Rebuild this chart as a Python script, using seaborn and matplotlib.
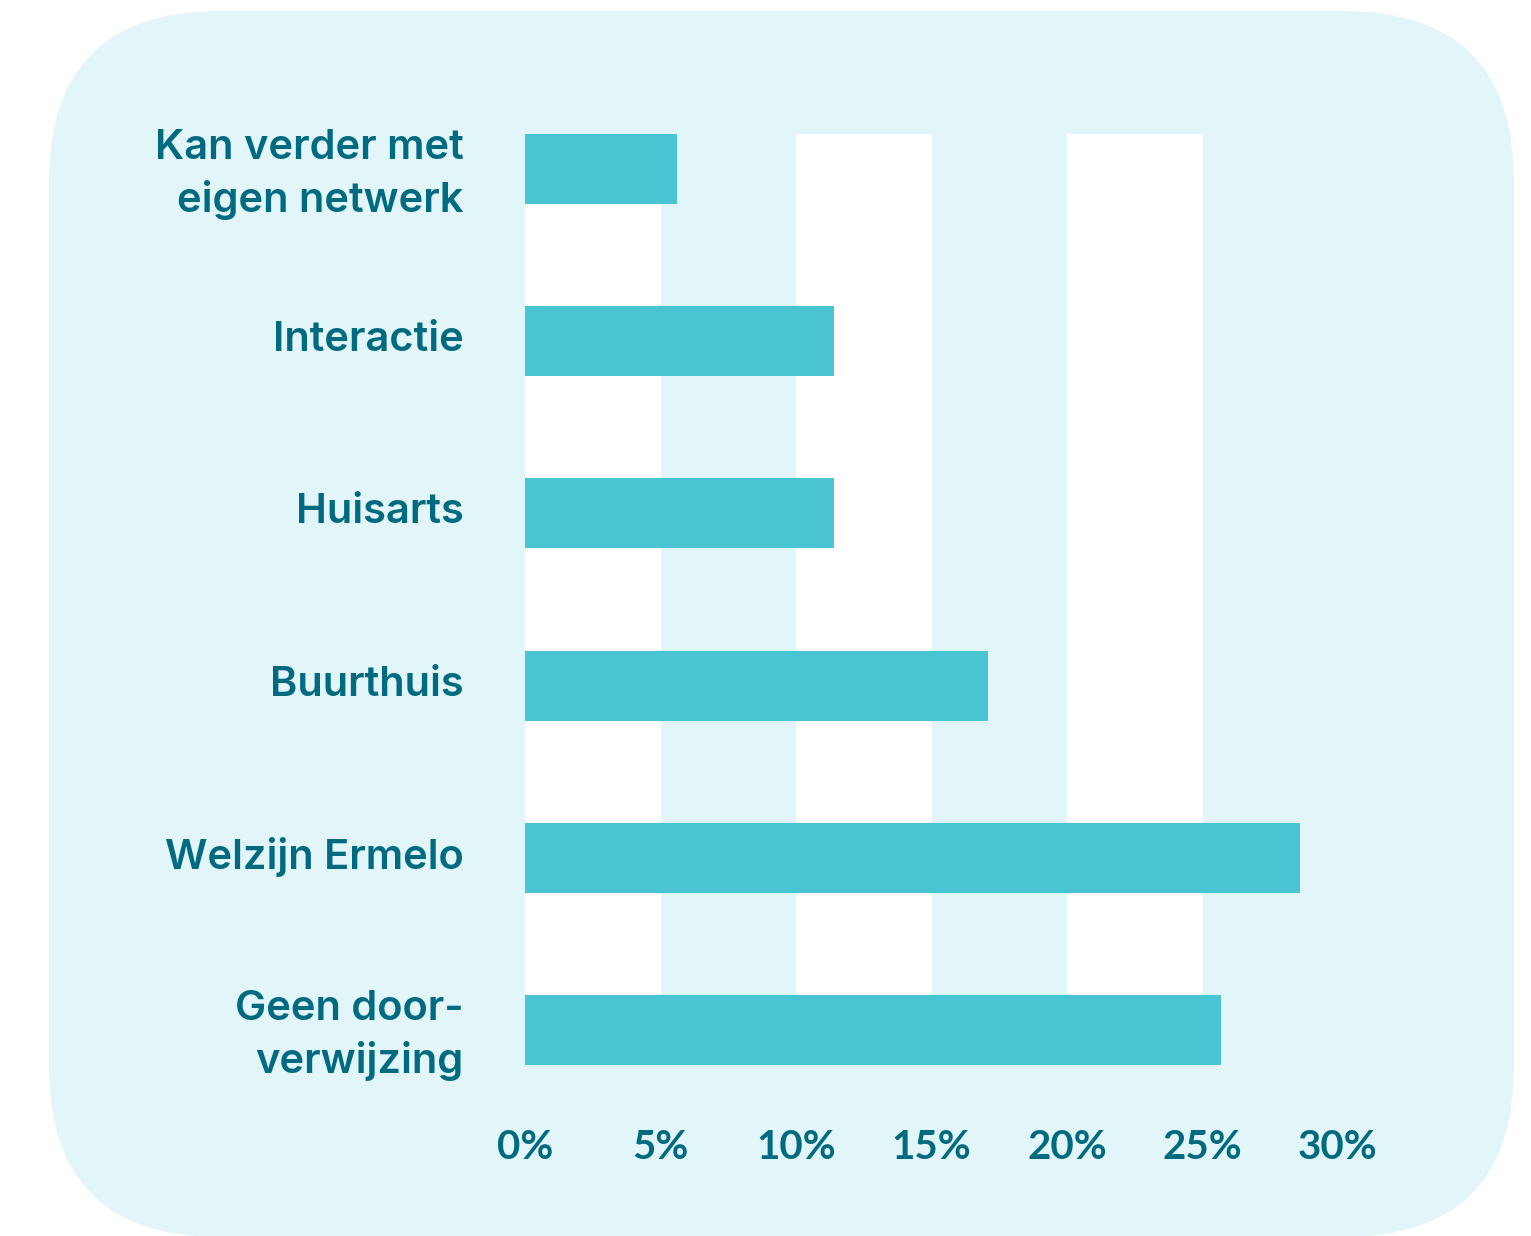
import matplotlib
matplotlib.use("Agg")
import matplotlib.pyplot as plt
import matplotlib.transforms as mtransforms
import seaborn as sns
import pandas as pd
from matplotlib.patches import FancyBboxPatch
from matplotlib.ticker import FuncFormatter

# Data
categories = ["Kan verder met\neigen netwerk", "Interactie", "Huisarts",
              "Buurthuis", "Welzijn Ermelo", "Geen door-\nverwijzing"]
percentages = [5.6, 11.4, 11.4, 17.1, 28.6, 25.7]
tick_values = [0, 5, 10, 15, 20, 25, 30]

panel_color = "#E2F5F9"
bar_color = "#4AC4D3"
text_color = "#006B80"

W, H = 1531, 1236
sns.set_theme(style="white")
plt.rcParams["font.family"] = ["Lato", "DejaVu Sans"]

fig = plt.figure(figsize=(W / 100, H / 100), dpi=100)
fig.patch.set_facecolor("white")

# Rounded light panel behind the chart
bg = fig.add_axes([0, 0, 1, 1], zorder=0)
bg.set_xlim(0, W)
bg.set_ylim(H, 0)
bg.axis("off")
bg.add_patch(FancyBboxPatch((49, 11), 1465, 1226,
                            boxstyle="round,pad=0,rounding_size=171",
                            facecolor=panel_color, edgecolor="none"))

# Bar axes
left, right, top, bottom = 525, 1338, 134, 1065
ax = fig.add_axes([left / W, 1 - bottom / H, (right - left) / W, (bottom - top) / H], zorder=1)
ax.set_facecolor(panel_color)

df = pd.DataFrame({"categorie": categories, "pct": percentages})
bar_w = 70 / 172
sns.barplot(data=df, y="categorie", x="pct", orient="h", color=bar_color,
            width=bar_w, saturation=1, linewidth=0, edgecolor="none", ax=ax, zorder=3)

# White vertical bands
for start in tick_values[0:-1:2]:
    ax.axvspan(start, start + 5, color="white", zorder=1, lw=0)

ax.set_xlim(0, 30)
ax.set_ylim(len(categories) - 1 + bar_w / 2, -bar_w / 2)
ax.set_xticks(tick_values)
ax.xaxis.set_major_formatter(FuncFormatter(lambda v, p: f"{v:.0f}%"))
ax.set_xlabel("")
ax.set_ylabel("")
for s in ax.spines.values():
    s.set_visible(False)
ax.tick_params(axis="x", length=0, pad=46, labelsize=29, labelcolor=text_color)
ax.tick_params(axis="y", length=0, pad=44, labelsize=30, labelcolor=text_color)
for lab in ax.get_xticklabels():
    lab.set_fontweight("bold")

# nudge the category labels up a little
shift = mtransforms.ScaledTranslation(0, 5 / 100, fig.dpi_scale_trans)
for lab in ax.get_yticklabels():
    lab.set_family(["Inter", "DejaVu Sans"])
    lab.set_fontweight("semibold")
    lab.set_linespacing(1.4)
    lab.set_horizontalalignment("right")
    lab.set_multialignment("right")
    lab.set_transform(lab.get_transform() + shift)

fig.savefig("out.png", dpi=100, facecolor="white")
